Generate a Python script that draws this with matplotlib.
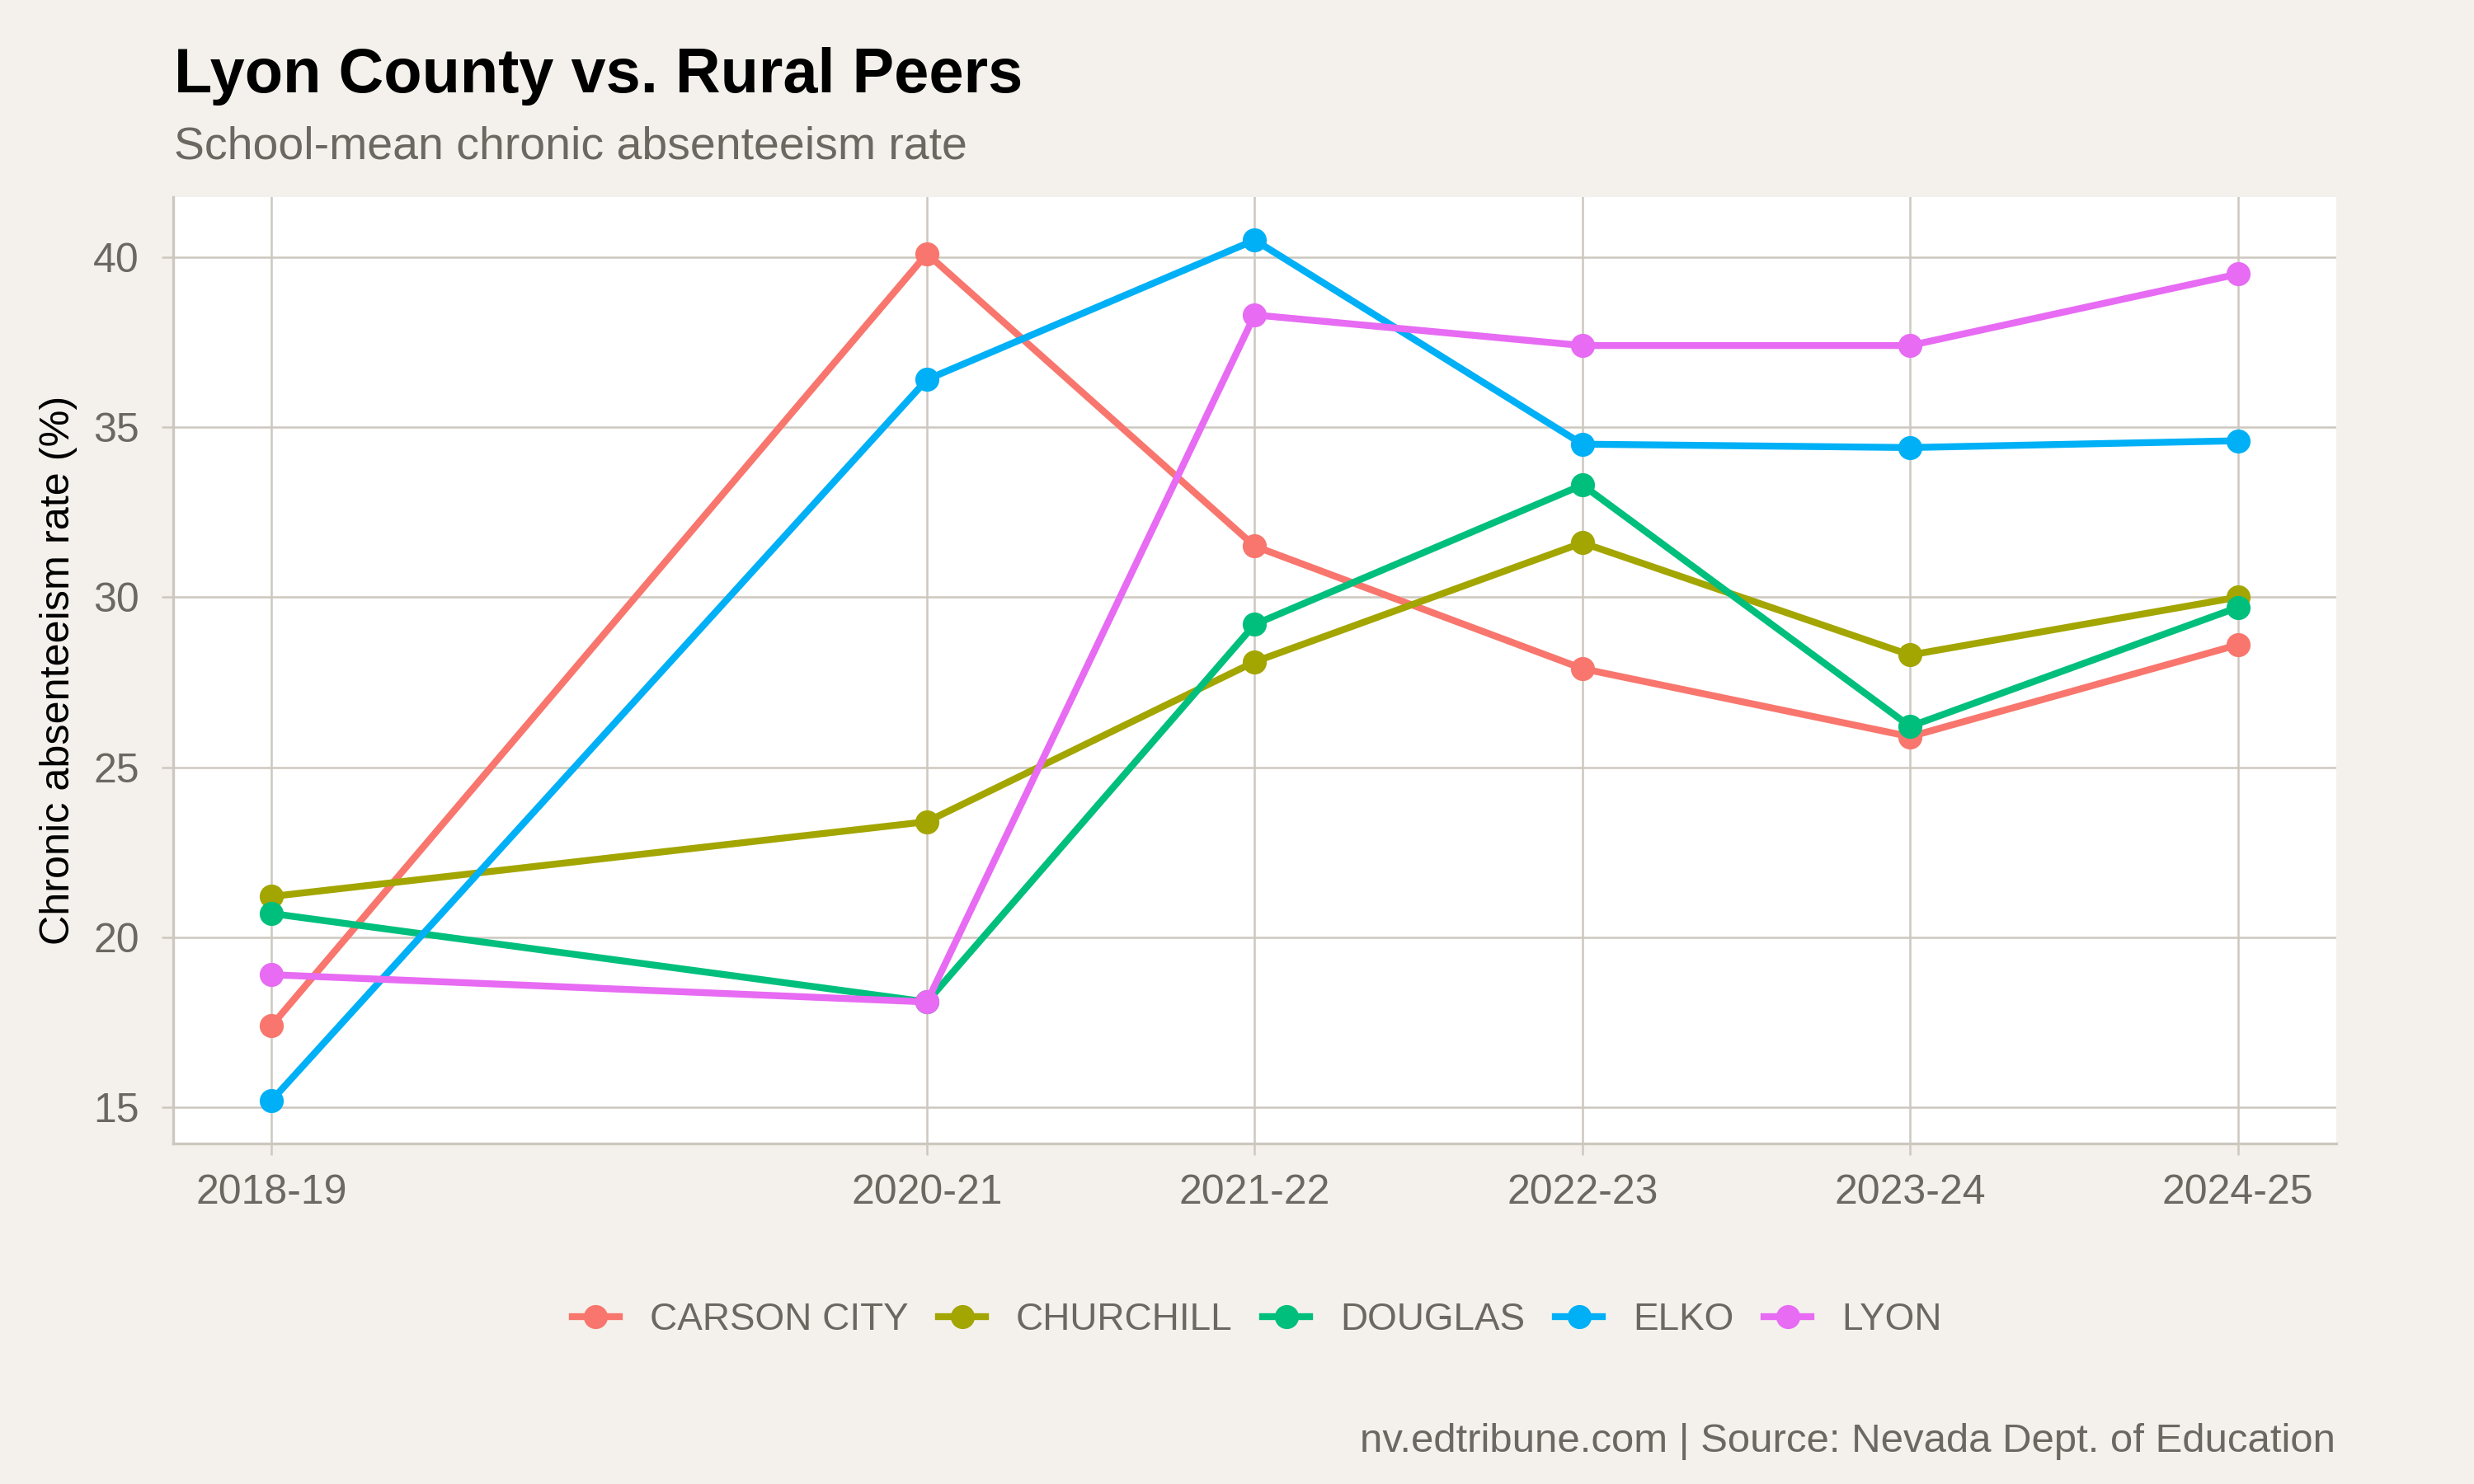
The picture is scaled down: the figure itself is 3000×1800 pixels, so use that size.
import matplotlib
matplotlib.use("Agg")
import matplotlib.pyplot as plt
from matplotlib.lines import Line2D

plt.rcParams['font.family'] = ['Liberation Sans', 'DejaVu Sans']

years = [2019, 2021, 2022, 2023, 2024, 2025]
year_labels = ["2018-19", "2020-21", "2021-22", "2022-23", "2023-24", "2024-25"]

districts = ["CARSON CITY", "CHURCHILL", "DOUGLAS", "ELKO", "LYON"]
carson_city = [17.4, 40.1, 31.5, 27.9, 25.9, 28.6]
churchill = [21.2, 23.4, 28.1, 31.6, 28.3, 30.0]
douglas = [20.7, 18.1, 29.2, 33.3, 26.2, 29.7]
elko = [15.2, 36.4, 40.5, 34.5, 34.4, 34.6]
lyon = [18.9, 18.1, 38.3, 37.4, 37.4, 39.5]
series = [carson_city, churchill, douglas, elko, lyon]
colors = ["#F8766D", "#A3A500", "#00BF7D", "#00B0F6", "#E76BF3"]

y_ticks = [15, 20, 25, 30, 35, 40]

BG = "#f4f1ec"
GRID = "#cdc8bf"
TXT = "#6b6862"
LW = 2.0
MS = 6.0

fig = plt.figure(figsize=(10, 6), dpi=300, facecolor=BG)
ax = fig.add_axes([0.07, 0.2294, 0.8743, 0.6378])
ax.set_facecolor("white")

for name, vals, c in zip(districts, series, colors):
    ax.plot(years, vals, color=c, lw=LW, marker='o', ms=MS, label=name,
            solid_capstyle='butt', zorder=3)

ax.set_xlim(2018.7, 2025.3)
ax.set_ylim(13.935, 41.765)
ax.set_xticks(years)
ax.set_xticklabels(year_labels)
ax.set_yticks(y_ticks)

ax.grid(True, color=GRID, lw=0.6, zorder=0)
ax.set_axisbelow(True)
for s in ['top', 'right']:
    ax.spines[s].set_visible(False)
for s in ['left', 'bottom']:
    ax.spines[s].set_color(GRID)
    ax.spines[s].set_linewidth(0.8)

ax.tick_params(axis='both', colors=GRID, length=3.4, width=0.6, labelcolor=TXT, labelsize=12)
ax.tick_params(axis='y', pad=6.5)
ax.tick_params(axis='x', pad=5.5)

fig.text(0.0237, (0.2294 + 0.8672) / 2, "Chronic absenteeism rate (%)", rotation=90,
         ha='center', va='center', fontsize=12.1, color='black')

fig.text(0.0705, 0.9378, "Lyon County vs. Rural Peers", fontsize=18.2, fontweight='bold',
         color='black', ha='left', va='baseline')
fig.text(0.0705, 0.8933, "School-mean chronic absenteeism rate", fontsize=13.3,
         color=TXT, ha='left', va='baseline')
fig.text(0.944, 0.0217, "nv.edtribune.com | Source: Nevada Dept. of Education", fontsize=11.8,
         color=TXT, ha='right', va='baseline')

handles = [Line2D([0], [0], color=c, lw=LW, marker='o', ms=MS) for c in colors]
leg = fig.legend(handles, districts, loc='center', bbox_to_anchor=(0.508, 0.1105), ncol=5,
                 frameon=False, fontsize=11, handlelength=1.25, handletextpad=0.8,
                 columnspacing=0.8, labelcolor=TXT)

fig.savefig("out.png", dpi=300, facecolor=BG)
